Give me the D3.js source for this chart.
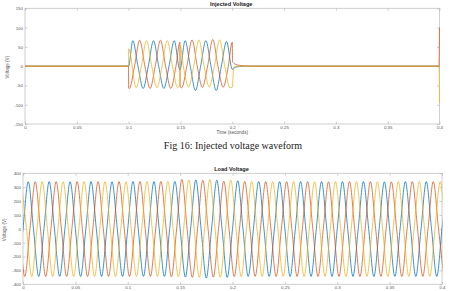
<!DOCTYPE html>
<html>
<head>
<meta charset="utf-8">
<script src="https://cdn.jsdelivr.net/npm/d3@7"></script>
<style>
  body { margin: 0; background: #fff; }
  svg { display: block; }
</style>
</head>
<body>
<script>
'use strict';

// ---- data ----
const timeTicks = [0, 0.05, 0.1, 0.15, 0.2, 0.25, 0.3, 0.35, 0.4];
const injTicks = [-150, -100, -50, 0, 50, 100, 150];
const loadTicks = [-400, -300, -200, -100, 0, 100, 200, 300, 400];
const phaseColors = ['#0072BD', '#D95319', '#EDB120'];

// injected voltage, knots [time, volts] per phase (zero crossings + peaks)
const injBlue = [[0, 0], [0.1, 0], [0.104, 66], [0.109, 0], [0.114, -58], [0.119, 0], [0.124, 66],
  [0.129, 0], [0.134, -58], [0.139, 0], [0.144, 66], [0.1495, -10], [0.1545, 66], [0.1595, 0],
  [0.1645, -63], [0.1695, 0], [0.1745, 66], [0.1795, 0], [0.1845, -63], [0.1895, 0], [0.1945, 64],
  [0.2, -8], [0.203, -3], [0.207, -1], [0.213, 0], [0.4, 0]];
const injRed = [[0, 0], [0.0999, 0], [0.1, -57], [0.1007, -58], [0.1057, 0], [0.1107, 67], [0.1157, 0],
  [0.1207, -58], [0.1257, 0], [0.1307, 67], [0.1357, 0], [0.1407, -58], [0.1457, 0], [0.1495, 62],
  [0.1497, -54], [0.1512, -56], [0.1562, 0], [0.1612, 68], [0.1662, 0], [0.1712, -55], [0.1762, 0],
  [0.1812, 69], [0.1862, 0], [0.1912, -55], [0.1962, 0], [0.2, 62], [0.2003, 12], [0.203, 5],
  [0.207, 2], [0.213, 0.5], [0.218, 0], [0.3995, 0], [0.4, 100]];
const injYellow = [[0, 0], [0.0999, 0], [0.1, 45], [0.1073, -56], [0.1123, 0], [0.1173, 66], [0.1223, 0],
  [0.1273, -56], [0.1323, 0], [0.1373, 66], [0.1423, 0], [0.1473, -56], [0.1495, -44], [0.1497, 55],
  [0.1528, 0], [0.1578, -54], [0.1628, 0], [0.1678, 68], [0.1728, 0], [0.1778, -54], [0.1828, 0],
  [0.1878, 68], [0.1928, 0], [0.1978, -56], [0.2, -55], [0.2015, -3], [0.204, 0], [0.3995, 0], [0.4, -95]];

// load voltage, successive peaks every half cycle (50 Hz) per phase
const halfCycle = 0.01;
const loadStart = [-0.005, -0.00833, -0.00167];
const loadBlue = [-342, 339, -344, 340, -343, 339, -344, 340, -343, 339,
  -344, 341, -343, 340, -344, 342, -348, 352, -355, 350,
  -350, 346, -344, 341, -343, 340, -344, 340, -343, 340,
  -344, 340, -343, 340, -344, 339, -343, 340, -344, 340,
  -343, 340];
const loadRed = [340, -343, 339, -344, 340, -343, 340, -344, 339, -343,
  340, -344, 341, -343, 342, -346, 356, -350, 350, -348,
  344, -344, 341, -343, 340, -344, 340, -343, 340, -344,
  339, -343, 340, -344, 340, -343, 339, -344, 340, -343,
  340, -344];
const loadYellow = [341, -344, 340, -343, 339, -344, 340, -343, 340, -344,
  339, -343, 341, -344, 342, -346, 352, -350, 355, -349,
  352, -345, 341, -344, 340, -343, 340, -344, 339, -343,
  340, -344, 340, -343, 339, -344, 340, -343, 340, -344,
  340, -343];

// ---- drawing ----
const svg = d3.select('body').append('svg')
  .attr('width', 457)
  .attr('height', 291);
svg.append('rect').attr('width', 457).attr('height', 291).attr('fill', '#fff');

function peakKnots(t0, peaks) {
  let knots = [];
  peaks.forEach((v, i) => {
    let t = t0 + i * halfCycle;
    if (i > 0) knots.push([t - halfCycle / 2, 0]);
    knots.push([t, v]);
  });
  return knots;
}

function drawPanel(opt) {
  let x = d3.scaleLinear().domain([0, 0.4]).range([opt.left, opt.right]);
  let y = d3.scaleLinear().domain(opt.yDomain).range([opt.bottom, opt.top]);
  let g = svg.append('g');

  // box
  g.append('rect')
    .attr('x', opt.left).attr('y', opt.top)
    .attr('width', opt.right - opt.left).attr('height', opt.bottom - opt.top)
    .attr('fill', 'none').attr('stroke', '#c4c4c4').attr('stroke-width', 0.8);

  let fmt = d => String(d);
  let axes = [
    [d3.axisBottom(x).tickValues(timeTicks).tickFormat(fmt), `translate(0,${opt.bottom})`],
    [d3.axisTop(x).tickValues(timeTicks).tickFormat(''), `translate(0,${opt.top})`],
    [d3.axisLeft(y).tickValues(opt.yTicks).tickFormat(fmt), `translate(${opt.left},0)`],
    [d3.axisRight(y).tickValues(opt.yTicks).tickFormat(''), `translate(${opt.right},0)`]
  ];
  axes.forEach(([axis, tr]) => {
    axis.tickSizeInner(-2.5).tickSizeOuter(0).tickPadding(2);
    let a = g.append('g').attr('transform', tr).call(axis);
    a.select('.domain').remove();
    a.selectAll('line').attr('stroke', '#b0b0b0').attr('stroke-width', 0.6);
    a.selectAll('text')
      .attr('fill', '#555')
      .style('font-family', 'Liberation Sans, Arial, sans-serif')
      .style('font-size', '4.4px');
  });

  // clip for the waves
  g.append('clipPath').attr('id', opt.id)
    .append('rect')
    .attr('x', opt.left).attr('y', opt.top - 2)
    .attr('width', opt.right - opt.left + 0.5).attr('height', opt.bottom - opt.top + 4);

  let line = d3.line()
    .x(d => x(d[0]))
    .y(d => y(d[1]))
    .curve(d3.curveMonotoneX);

  g.append('g').attr('clip-path', `url(#${opt.id})`)
    .selectAll('path')
    .data(opt.series)
    .enter()
    .append('path')
    .attr('d', line)
    .attr('fill', 'none')
    .attr('stroke', (d, i) => phaseColors[i])
    .attr('stroke-width', 0.85)
    .attr('stroke-opacity', 0.9)
    .attr('stroke-linejoin', 'round');

  // title and labels
  g.append('text')
    .attr('x', (opt.left + opt.right) / 2 - 1)
    .attr('y', opt.top - 2.5)
    .attr('text-anchor', 'middle')
    .style('font-family', 'Liberation Sans, Arial, sans-serif')
    .style('font-size', '5.6px')
    .style('font-weight', 'bold')
    .attr('fill', '#222')
    .text(opt.title);

  g.append('text')
    .attr('transform', `translate(${opt.yLabelX},${(opt.top + opt.bottom) / 2 + 1})rotate(-90)`)
    .attr('text-anchor', 'middle')
    .style('font-family', 'Liberation Sans, Arial, sans-serif')
    .style('font-size', '4.6px')
    .attr('fill', '#555')
    .text('Voltage (V)');

  if (opt.xLabel) {
    g.append('text')
      .attr('x', (opt.left + opt.right) / 2)
      .attr('y', opt.bottom + 9.8)
      .attr('text-anchor', 'middle')
      .style('font-family', 'Liberation Sans, Arial, sans-serif')
      .style('font-size', '4.6px')
      .attr('fill', '#555')
      .text(opt.xLabel);
  }
}

drawPanel({
  id: 'clipInj', title: 'Injected Voltage', xLabel: 'Time (seconds)',
  left: 25, right: 439.5, top: 8.3, bottom: 124, yLabelX: 8.5,
  yDomain: [-150, 150], yTicks: injTicks,
  series: [injBlue, injRed, injYellow]
});

svg.append('text')
  .attr('x', 233)
  .attr('y', 149)
  .attr('text-anchor', 'middle')
  .style('font-family', 'Liberation Serif, Times New Roman, serif')
  .style('font-size', '10px')
  .attr('fill', '#222')
  .text('Fig 16: Injected voltage waveform');

drawPanel({
  id: 'clipLoad', title: 'Load Voltage', xLabel: '',
  left: 23, right: 442, top: 173.3, bottom: 284.3, yLabelX: 6,
  yDomain: [-400, 400], yTicks: loadTicks,
  series: [peakKnots(loadStart[0], loadBlue), peakKnots(loadStart[1], loadRed), peakKnots(loadStart[2], loadYellow)]
});
</script>
</body>
</html>
